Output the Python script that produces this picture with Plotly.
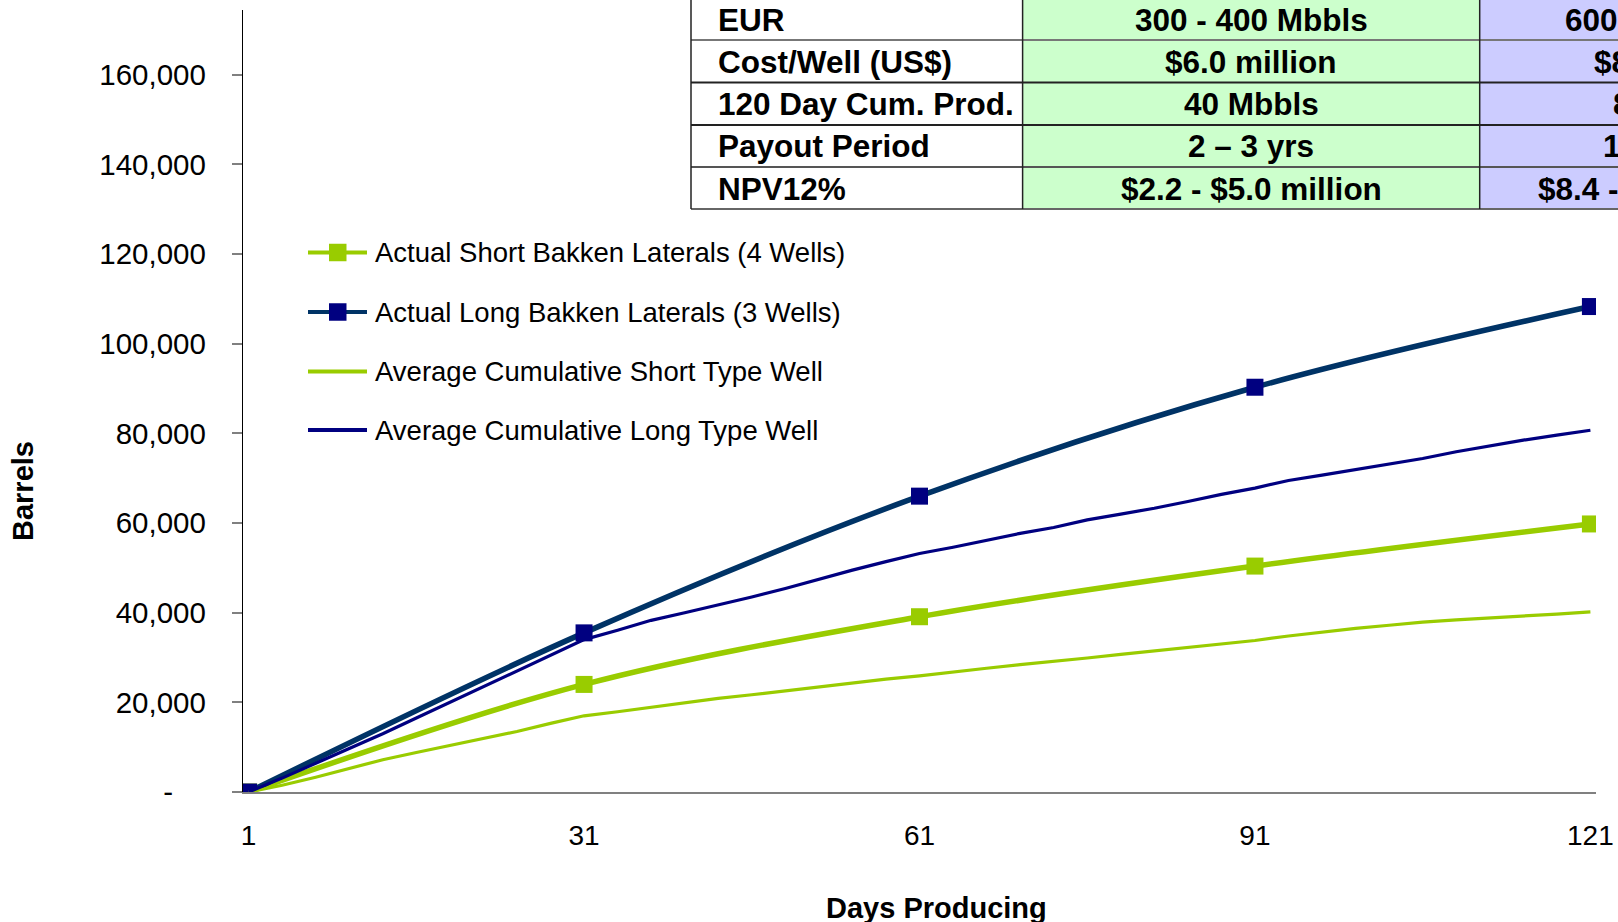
import plotly.graph_objects as go

# ---- data -------------------------------------------------------------
marker_days = [1, 31, 61, 91, 121]
actual_short = [0, 24000, 39100, 50400, 59800]
actual_long = [0, 35500, 66000, 90300, 108300]

type_days = list(range(1, 122, 3))
avg_short = [0, 1500, 3300, 5300, 7200, 8800, 10400, 12000, 13500, 15300, 17000,
             17900, 18900, 19900, 20900, 21700, 22600, 23500, 24400, 25200, 25900,
             26800, 27600, 28400, 29100, 29900, 30700, 31500, 32300, 33100, 33800,
             34800, 35700, 36500, 37200, 37900, 38400, 38800, 39200, 39700, 40200]
avg_long = [0, 3100, 6400, 9700, 13000, 16500, 20000, 23500, 27000, 30500, 34000,
            36100, 38300, 40000, 41700, 43500, 45400, 47500, 49500, 51400, 53200,
            54600, 56200, 57700, 59000, 60700, 62000, 63300, 64800, 66400, 67800,
            69500, 70700, 71900, 73100, 74400, 75900, 77200, 78500, 79600, 80700]

x_ticks = [1, 31, 61, 91, 121]
y_ticks = [0, 20000, 40000, 60000, 80000, 100000, 120000, 140000, 160000]
y_tick_text = ["-\u00a0\u00a0\u00a0\u00a0", "20,000", "40,000", "60,000", "80,000",
               "100,000", "120,000", "140,000", "160,000"]

legend_names = ["Actual Short Bakken Laterals (4 Wells)",
                "Actual Long Bakken Laterals (3 Wells)",
                "Average Cumulative Short Type Well",
                "Average Cumulative Long Type Well"]

table_labels = ["EUR", "Cost/Well (US$)", "120 Day Cum. Prod.", "Payout Period", "NPV12%"]
table_short = ["300 - 400 Mbbls", "$6.0 million", "40 Mbbls", "2 \u2013 3 yrs", "$2.2 - $5.0 million"]
table_long = ["600 - 800 Mbbls", "$8.0 million", "80 Mbbls", "1 \u2013 2 yrs", "$8.4 - $16.0 million"]

# ---- styling ----------------------------------------------------------
GREEN = "#99CC00"
NAVY = "#000080"
DEEP = "#003366"
FONT = "Liberation Sans, Arial, sans-serif"

W, H = 1618, 922
ML, MR, MT, MB = 243, 22, 10, 130
PW, PH = W - ML - MR, H - MT - MB


def px(x):
    return (x - ML) / PW


def py(y):
    return (H - MB - y) / PH


fig = go.Figure()

fig.add_trace(go.Scatter(x=marker_days, y=actual_short, mode="lines+markers",
                         line=dict(color=GREEN, width=5.5, shape="spline"),
                         marker=dict(symbol="square", size=17, color=GREEN),
                         name=legend_names[0]))
fig.add_trace(go.Scatter(x=marker_days, y=actual_long, mode="lines+markers",
                         line=dict(color=DEEP, width=5.5, shape="spline"),
                         marker=dict(symbol="square", size=17, color=NAVY),
                         name=legend_names[1]))
fig.add_trace(go.Scatter(x=type_days, y=avg_short, mode="lines",
                         line=dict(color=GREEN, width=3.2), name=legend_names[2]))
fig.add_trace(go.Scatter(x=type_days, y=avg_long, mode="lines",
                         line=dict(color=NAVY, width=3.2), name=legend_names[3]))

shapes = []
annotations = []

# legend drawn by hand
leg_rows = [252.5, 312, 371.5, 430]
leg_line_col = [GREEN, DEEP, GREEN, NAVY]
leg_marker_col = [GREEN, NAVY, None, None]
for i, yc in enumerate(leg_rows):
    shapes.append(dict(type="line", xref="paper", yref="paper",
                       x0=px(308), x1=px(367), y0=py(yc), y1=py(yc),
                       line=dict(color=leg_line_col[i], width=4)))
    if leg_marker_col[i]:
        shapes.append(dict(type="rect", xref="paper", yref="paper",
                           x0=px(329), x1=px(346.5), y0=py(yc - 8.75), y1=py(yc + 8.75),
                           fillcolor=leg_marker_col[i], line=dict(width=0)))
    annotations.append(dict(xref="paper", yref="paper", x=px(373), y=py(yc),
                            xanchor="left", yanchor="middle", showarrow=False,
                            text=legend_names[i],
                            font=dict(family=FONT, size=27.5, color="#000000")))

# summary table
col_x = [691, 1022.6, 1479.7, 1900]
row_y = [-2, 40, 82.5, 125, 167, 209]
fills = ["#FFFFFF", "#CCFFCC", "#CCCCFF"]
for c in range(3):
    shapes.append(dict(type="rect", xref="paper", yref="paper",
                       x0=px(col_x[c]), x1=px(col_x[c + 1]),
                       y0=py(row_y[-1]), y1=py(row_y[0]),
                       fillcolor=fills[c], line=dict(width=0)))
row_line_col = ["#333333", "#777777", "#222222", "#222222", "#555555", "#666666"]
for r, yv in enumerate(row_y):
    shapes.append(dict(type="line", xref="paper", yref="paper",
                       x0=px(col_x[0]), x1=px(col_x[-1]), y0=py(yv), y1=py(yv),
                       line=dict(color=row_line_col[r], width=2)))
for xv in col_x[:3]:
    shapes.append(dict(type="line", xref="paper", yref="paper",
                       x0=px(xv), x1=px(xv), y0=py(row_y[-1]), y1=py(row_y[0]),
                       line=dict(color="#222222", width=1.5)))

long_left = [1565, 1594, 1613, 1603, 1538]
for r in range(5):
    yc = (row_y[r] + row_y[r + 1]) / 2 + 0.5
    tfont = dict(family=FONT, size=31.5, color="#000000")
    annotations.append(dict(xref="paper", yref="paper", x=px(716), y=py(yc),
                            xanchor="left", yanchor="middle", showarrow=False,
                            text="<b>%s</b>" % table_labels[r], font=tfont))
    annotations.append(dict(xref="paper", yref="paper", x=px((col_x[1] + col_x[2]) / 2),
                            y=py(yc), xanchor="center", yanchor="middle", showarrow=False,
                            text="<b>%s</b>" % table_short[r], font=tfont))
    annotations.append(dict(xref="paper", yref="paper", x=px(long_left[r] - 2), y=py(yc),
                            xanchor="left", yanchor="middle", showarrow=False,
                            text="<b>%s</b>" % table_long[r], font=tfont))

# axis titles
annotations.append(dict(xref="paper", yref="paper", x=px(936), y=py(908),
                        xanchor="center", yanchor="middle", showarrow=False,
                        text="<b>Days Producing</b>",
                        font=dict(family=FONT, size=29, color="#000000")))
annotations.append(dict(xref="paper", yref="paper", x=px(23), y=py(491),
                        xanchor="center", yanchor="middle", showarrow=False, textangle=-90,
                        text="<b>Barrels</b>",
                        font=dict(family=FONT, size=29, color="#000000")))

fig.update_layout(
    width=W, height=H,
    margin=dict(l=ML, r=MR, t=MT, b=MB, pad=0, autoexpand=False),
    paper_bgcolor="white", plot_bgcolor="white",
    showlegend=False,
    shapes=shapes, annotations=annotations,
    xaxis=dict(range=[0.5, 121.5], tickvals=x_ticks, ticktext=[str(v) for v in x_ticks],
               showgrid=False, zeroline=False, showline=True, linecolor="#808080",
               linewidth=2, ticks="", ticklabelstandoff=17, automargin=False,
               ticklabeloverflow="allow",
               tickfont=dict(family=FONT, size=28, color="#000000")),
    yaxis=dict(range=[0, 174456], tickvals=y_ticks, ticktext=y_tick_text,
               showgrid=False, zeroline=False, showline=True, linecolor="#000000",
               linewidth=1.3, ticks="outside", ticklen=10, tickcolor="#808080",
               tickwidth=1.5, ticklabelstandoff=20, automargin=False,
               tickfont=dict(family=FONT, size=29.5, color="#000000")),
)

fig.write_html("out.html")
